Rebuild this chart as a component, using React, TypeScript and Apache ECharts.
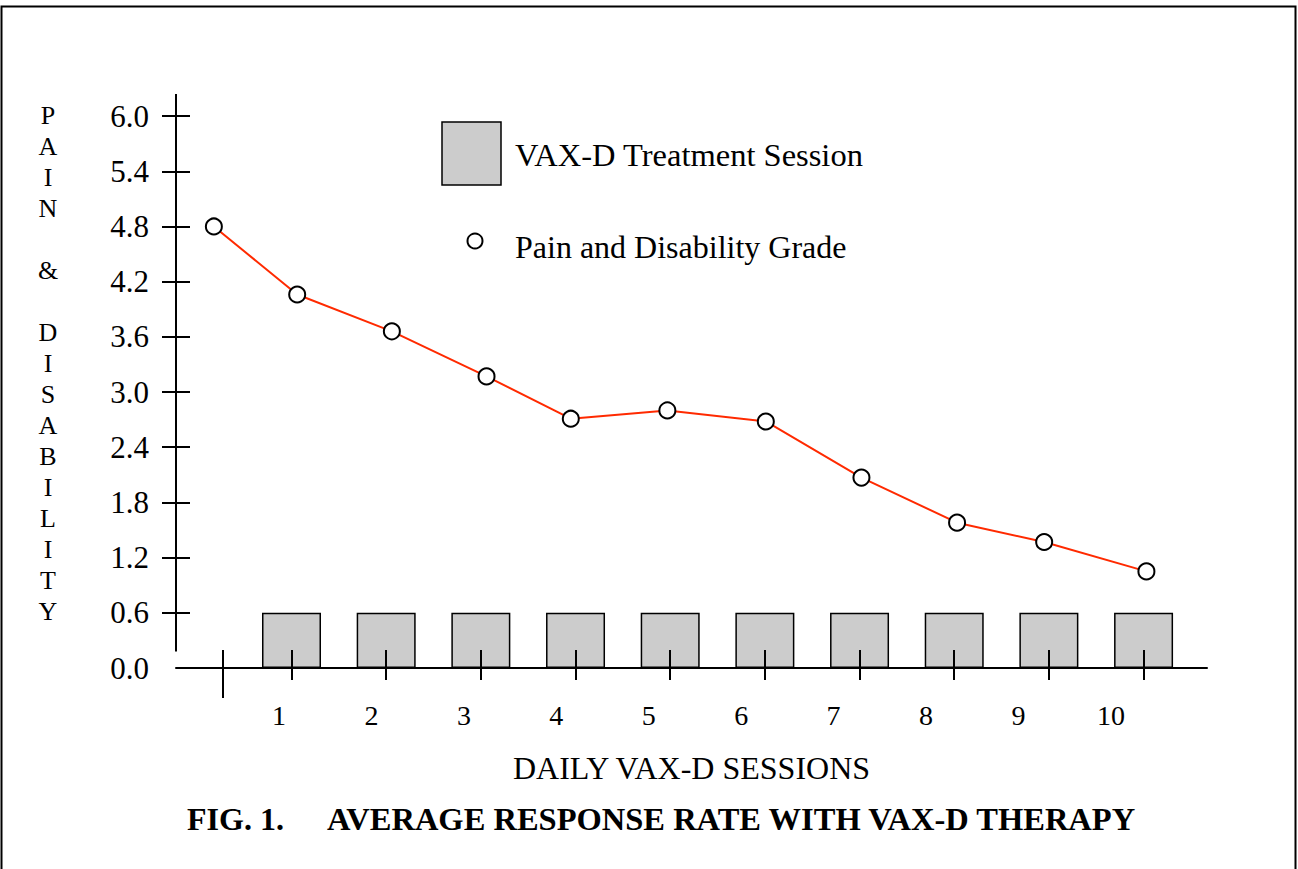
import React, { useEffect, useRef } from "react";
import * as echarts from "echarts";

// ---- Data ----
const sessionDays = [1, 2, 3, 4, 5, 6, 7, 8, 9, 10];
const sessionBarHeight = [0.6, 0.6, 0.6, 0.6, 0.6, 0.6, 0.6, 0.6, 0.6, 0.6];
const gradeX = [0.18, 1.06, 2.06, 3.06, 3.95, 4.97, 6.01, 7.02, 8.03, 8.95, 10.03];
const gradeY = [4.8, 4.06, 3.66, 3.17, 2.71, 2.8, 2.68, 2.07, 1.58, 1.37, 1.05];
const yTickValues = [0.6, 1.2, 1.8, 2.4, 3.0, 3.6, 4.2, 4.8, 5.4, 6.0];
const yLabelValues = [0.0, 0.6, 1.2, 1.8, 2.4, 3.0, 3.6, 4.2, 4.8, 5.4, 6.0];
const xTickValues = [0.27, 1, 2, 3, 4, 5, 6, 7, 8, 9, 10];
const xStartTick = [0.27];
const xLabelValues = [1, 2, 3, 4, 5, 6, 7, 8, 9, 10];

const SERIF = "'Liberation Serif', 'Times New Roman', serif";

export default function App() {
  const ref = useRef<HTMLDivElement>(null);

  useEffect(() => {
    if (!ref.current) return;
    const chart = echarts.init(ref.current, undefined, { renderer: "svg" });

    const gridLeft = 176;
    const gridTop = 94;
    const gridWidth = 1031;
    const gridHeight = 574;
    const xMin = -0.22;
    const xMax = 10.67;
    const yMin = 0;
    const yMax = 6.24;
    const yLineStart = 0.18;
    const tickStyle = () => ({ color: "#000", width: 2 });

    const baseX = () => ({
      type: "value",
      gridIndex: 0,
      position: "bottom",
      z: 10,
      min: xMin,
      max: xMax,
      splitLine: { show: false },
      axisLabel: { show: false },
      axisLine: { show: false, onZero: false },
      axisTick: { show: false },
    });
    const baseY = () => ({
      type: "value",
      gridIndex: 0,
      position: "left",
      z: 10,
      min: yMin,
      max: yMax,
      splitLine: { show: false },
      axisLabel: { show: false },
      axisLine: { show: false, onZero: false },
      axisTick: { show: false },
    });

    const option: any = {
      animation: false,
      backgroundColor: "#ffffff",
      textStyle: { fontFamily: SERIF },
      title: [
        {
          text: "FIG. 1.",
          left: 187,
          top: 803,
          padding: 0,
          textStyle: { fontFamily: SERIF, fontWeight: "bold", fontSize: 32, lineHeight: 32, color: "#000" },
        },
        {
          text: "AVERAGE RESPONSE RATE WITH VAX-D THERAPY",
          left: 327,
          top: 803,
          padding: 0,
          textStyle: { fontFamily: SERIF, fontWeight: "bold", fontSize: 32.5, lineHeight: 32, color: "#000" },
        },
      ],
      grid: { left: gridLeft, top: gridTop, width: gridWidth, height: gridHeight, containLabel: false },
      xAxis: [
        {
          ...baseX(),
          axisLine: { show: true, onZero: false, lineStyle: { color: "#000", width: 2 } },
          axisTick: { show: true, inside: false, length: 12, customValues: [...xTickValues], lineStyle: tickStyle() },
          name: "DAILY VAX-D SESSIONS",
          nameLocation: "middle",
          nameGap: 84,
          nameTextStyle: { fontFamily: SERIF, fontSize: 32, lineHeight: 32, color: "#000" },
        },
        {
          // upward part of the crossing ticks (top axis moved down onto the bottom line)
          ...baseX(),
          position: "top",
          offset: -gridHeight,
          axisTick: { show: true, inside: false, length: 18, customValues: [...xTickValues], lineStyle: tickStyle() },
        },
        {
          ...baseX(),
          axisTick: { show: true, inside: false, length: 30, customValues: [...xStartTick], lineStyle: tickStyle() },
        },
        {
          ...baseX(),
          min: -0.115,
          max: 11.04,
          axisLabel: {
            show: true,
            customValues: [...xLabelValues],
            fontFamily: SERIF,
            fontSize: 28,
            color: "#000",
            margin: 33,
          },
        },
      ],
      yAxis: [
        {
          ...baseY(),
          axisTick: { show: true, inside: false, length: 14, customValues: [...yTickValues], lineStyle: tickStyle() },
          axisLabel: {
            show: true,
            customValues: [...yLabelValues],
            formatter: (v: number) => v.toFixed(1),
            fontFamily: SERIF,
            fontSize: 31,
            color: "#000",
            margin: 27,
          },
        },
        {
          // rightward part of the crossing ticks (right axis moved onto the left line)
          ...baseY(),
          position: "right",
          offset: -gridWidth,
          axisTick: { show: true, inside: false, length: 14, customValues: [...yTickValues], lineStyle: tickStyle() },
        },
      ],
      series: [
        {
          name: "VAX-D Treatment Session",
          type: "bar",
          xAxisIndex: 0,
          yAxisIndex: 0,
          barWidth: 59,
          z: 1,
          itemStyle: { color: "#cccccc", borderColor: "#000", borderWidth: 1.5 },
          data: sessionDays.map((d, i) => [d, sessionBarHeight[i]]),
        },
        {
          name: "Pain and Disability Grade",
          type: "line",
          xAxisIndex: 0,
          yAxisIndex: 0,
          z: 12,
          clip: false,
          symbol: "circle",
          symbolSize: 16,
          lineStyle: { color: "#ff2a00", width: 2 },
          itemStyle: { color: "#ffffff", borderColor: "#000", borderWidth: 2 },
          data: gradeX.map((x, i) => [x, gradeY[i]]),
          markLine: {
            silent: true,
            symbol: ["none", "none"],
            label: { show: false },
            lineStyle: { color: "#000", width: 2, type: "solid" },
            data: [[{ coord: [xMin, yLineStart] }, { coord: [xMin, yMax] }]],
          },
        },
      ],
      graphic: [
        {
          type: "rect",
          shape: { x: 1.5, y: 6.5, width: 1294, height: 900 },
          style: { fill: "none", stroke: "#000", lineWidth: 2 },
          silent: true,
        },
        {
          type: "text",
          x: 48,
          y: 100,
          style: {
            text: "P\nA\nI\nN\n\n&\n\nD\nI\nS\nA\nB\nI\nL\nI\nT\nY",
            fontFamily: SERIF,
            fontSize: 26,
            lineHeight: 31,
            fill: "#000",
            align: "center",
            verticalAlign: "top",
          },
        },
        {
          type: "rect",
          shape: { x: 442, y: 122, width: 59, height: 63 },
          style: { fill: "#cccccc", stroke: "#000", lineWidth: 1.5 },
        },
        {
          type: "text",
          x: 515,
          y: 155,
          style: {
            text: "VAX-D Treatment Session",
            fontFamily: SERIF,
            fontSize: 32.5,
            fill: "#000",
            align: "left",
            verticalAlign: "middle",
          },
        },
        {
          type: "circle",
          shape: { cx: 475, cy: 241, r: 7.5 },
          style: { fill: "#fff", stroke: "#000", lineWidth: 2 },
        },
        {
          type: "text",
          x: 515,
          y: 247,
          style: {
            text: "Pain and Disability Grade",
            fontFamily: SERIF,
            fontSize: 32,
            fill: "#000",
            align: "left",
            verticalAlign: "middle",
          },
        },
      ],
    };

    chart.setOption(option);
    return () => chart.dispose();
  }, []);

  return (
    <div
      ref={ref}
      style={{ position: "fixed", left: 0, top: 0, width: 1298, height: 869, background: "#fff" }}
    />
  );
}
